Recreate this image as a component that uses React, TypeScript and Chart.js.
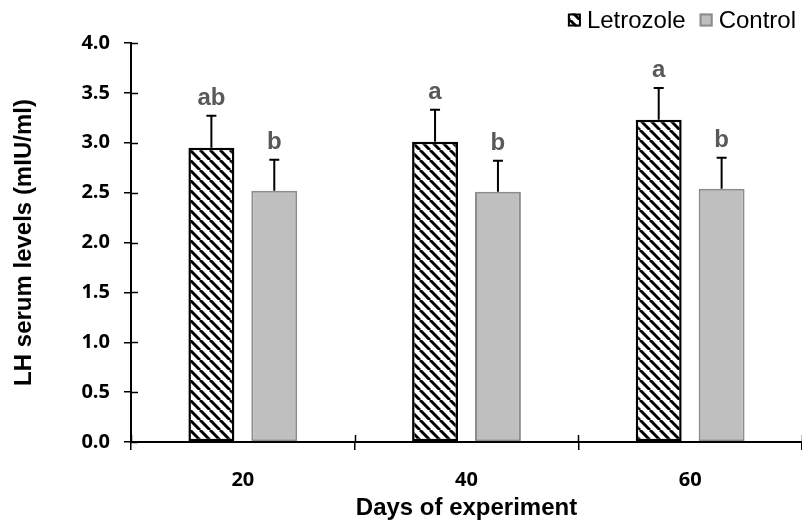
import React, { useEffect, useRef } from "react";
import { Chart, registerables } from "chart.js";

Chart.register(...registerables);

const categories = ["20", "40", "60"];
const letrozole = [2.95, 3.01, 3.23];
const letrozoleErr = [0.32, 0.32, 0.32];
const control = [2.52, 2.51, 2.54];
const controlErr = [0.31, 0.31, 0.31];
const letrozoleLetters = ["ab", "a", "a"];
const controlLetters = ["b", "b", "b"];
const seriesNames = ["Letrozole", "Control"];
const yMin = 0;
const yMax = 4;
const yStep = 0.5;

const TICK_FONT = { family: "'Open Sans', sans-serif", size: 20, weight: "bold" as const };
const TITLE_FONT = { family: "'Liberation Sans', Arial, sans-serif", size: 24, weight: "bold" as const };

function makeHatch(): CanvasPattern | string {
  const s = 10;
  const c = document.createElement("canvas");
  c.width = s;
  c.height = s;
  const ctx = c.getContext("2d");
  if (!ctx) return "#fff";
  ctx.fillStyle = "#ffffff";
  ctx.fillRect(0, 0, s, s);
  ctx.strokeStyle = "#000000";
  ctx.lineWidth = 3;
  for (const x0 of [-s, 0, s]) {
    ctx.beginPath();
    ctx.moveTo(x0, 0);
    ctx.lineTo(x0 + s, s);
    ctx.stroke();
  }
  const p = ctx.createPattern(c, "repeat");
  return p || "#fff";
}

const errors = [letrozoleErr, controlErr];
const letters = [letrozoleLetters, controlLetters];

const errorPlugin = {
  id: "errorBarsLetters",
  afterDatasetsDraw(chart: any) {
    const ctx = chart.ctx;
    const y = chart.scales.y;
    ctx.save();
    chart.data.datasets.forEach((ds: any, di: number) => {
      const meta = chart.getDatasetMeta(di);
      meta.data.forEach((el: any, i: number) => {
        const v = ds.data[i];
        const top = y.getPixelForValue(v + errors[di][i]);
        ctx.strokeStyle = "#000";
        ctx.lineWidth = 2;
        ctx.beginPath();
        ctx.moveTo(el.x, el.y);
        ctx.lineTo(el.x, top);
        ctx.moveTo(el.x - 5, top);
        ctx.lineTo(el.x + 5, top);
        ctx.stroke();
        ctx.fillStyle = "#595959";
        ctx.font = "bold 24px 'Liberation Sans', Arial, sans-serif";
        ctx.textAlign = "center";
        ctx.textBaseline = "alphabetic";
        ctx.fillText(letters[di][i], el.x, top - 11);
      });
    });
    ctx.restore();
  },
  afterDraw(chart: any) {
    const ctx = chart.ctx;
    const area = chart.chartArea;
    const ys = chart.scales.y;
    ctx.save();
    // tick extensions across the axes
    ctx.strokeStyle = "#000";
    ctx.lineWidth = 1.5;
    ys.ticks.forEach((_t: any, i: number) => {
      const py = Math.round(ys.getPixelForTick(i)) + 0.5;
      ctx.beginPath();
      ctx.moveTo(area.left, py);
      ctx.lineTo(area.left + 7, py);
      ctx.stroke();
    });
    const n = chart.data.labels.length;
    for (let i = 0; i <= n; i++) {
      const px = Math.round(area.left + ((area.right - area.left) * i) / n) + 0.5;
      ctx.beginPath();
      ctx.moveTo(px, area.bottom);
      ctx.lineTo(px, area.bottom - 7);
      ctx.stroke();
    }
    // legend
    ctx.font = "24px 'Liberation Sans', Arial, sans-serif";
    ctx.textBaseline = "middle";
    ctx.textAlign = "left";
    const box = 13;
    const gapBoxText = 6;
    const gapItems = 14;
    const cy = 20;
    const widths = seriesNames.map((s) => ctx.measureText(s).width);
    let x = 796 - (widths[0] + widths[1] + 2 * (box + gapBoxText) + gapItems);
    chart.data.datasets.forEach((ds: any, di: number) => {
      ctx.fillStyle = ds.backgroundColor;
      ctx.fillRect(x, cy - box / 2, box, box);
      ctx.strokeStyle = ds.borderColor;
      ctx.lineWidth = 2;
      ctx.strokeRect(x + 1, cy - box / 2 + 1, box - 2, box - 2);
      ctx.fillStyle = "#000";
      ctx.fillText(seriesNames[di], x + box + gapBoxText, cy + 1);
      x += box + gapBoxText + widths[di] + gapItems;
    });
    ctx.restore();
  },
};

export default function App() {
  const ref = useRef<HTMLCanvasElement | null>(null);
  useEffect(() => {
    if (!ref.current) return;
    const hatch = makeHatch();
    const chart = new Chart(ref.current, {
      type: "bar",
      data: {
        labels: categories,
        datasets: [
          {
            label: seriesNames[0],
            data: letrozole,
            backgroundColor: hatch as any,
            borderColor: "#000000",
            borderWidth: 2.5,
            borderSkipped: false,
          },
          {
            label: seriesNames[1],
            data: control,
            backgroundColor: "#bfbfbf",
            borderColor: "#8c8c8c",
            borderWidth: 2,
            borderSkipped: false,
          },
        ],
      },
      options: {
        animation: false,
        responsive: true,
        maintainAspectRatio: false,
        layout: { padding: { top: 43, right: 0, left: 0, bottom: 0 } },
        datasets: {
          bar: { categoryPercentage: 0.5625, barPercentage: 0.73 },
        },
        plugins: {
          legend: { display: false },
          tooltip: { enabled: false },
        },
        scales: {
          x: {
            grid: {
              display: true,
              drawOnChartArea: false,
              drawTicks: true,
              tickLength: 8,
              color: "#000",
              lineWidth: 1.5,
              offset: true,
            },
            border: { display: true, color: "#000", width: 2 },
            ticks: { color: "#000", font: TICK_FONT, padding: 18 },
            title: {
              display: true,
              text: "Days of experiment",
              color: "#000",
              font: TITLE_FONT,
              padding: { top: 0, bottom: 0 },
            },
            afterFit: (scale: any) => {
              scale.height = 81;
            },
          },
          y: {
            min: yMin,
            max: yMax,
            grid: {
              display: true,
              drawOnChartArea: false,
              drawTicks: true,
              tickLength: 7,
              color: "#000",
              lineWidth: 1.5,
            },
            border: { display: true, color: "#000", width: 2 },
            ticks: {
              stepSize: yStep,
              color: "#000",
              font: TICK_FONT,
              padding: 14,
              callback: (v: any) => Number(v).toFixed(1),
            },
            title: {
              display: true,
              text: "LH serum levels (mIU/ml)",
              color: "#000",
              font: TITLE_FONT,
              padding: { top: 10, bottom: 0 },
            },
            afterFit: (scale: any) => {
              scale.width = 131;
            },
          },
        },
      },
      plugins: [errorPlugin],
    });
    return () => chart.destroy();
  }, []);
  return (
    <div style={{ position: "fixed", left: 0, top: 0, width: 802, height: 523, background: "#fff" }}>
      <canvas ref={ref} />
    </div>
  );
}
